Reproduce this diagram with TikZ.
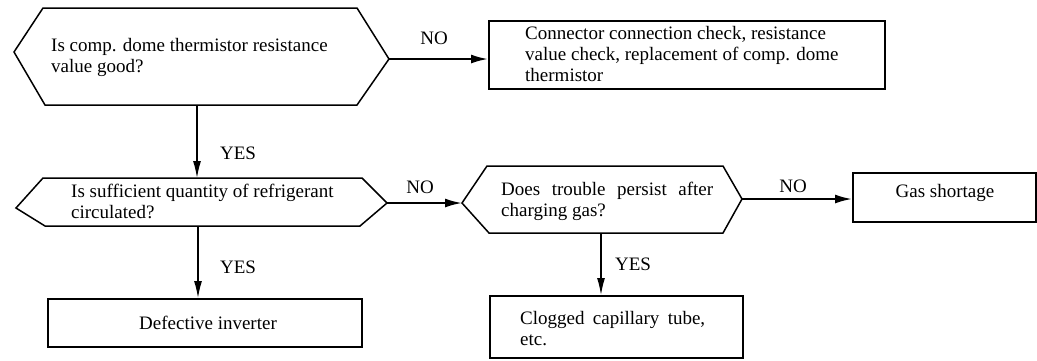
\documentclass[tikz,border=0pt]{standalone}
\usepackage{fontspec}
\setmainfont{Liberation Serif}
\usetikzlibrary{arrows.meta}
\tikzset{
  txt/.style={inner sep=0pt, font=\fontsize{19}{21}\selectfont, align=left},
  lbl/.style={inner sep=0pt, font=\fontsize{19}{21}\selectfont},
  hexline/.style={line width=1.5pt, line join=miter},
  boxline/.style={draw, line width=2pt, inner sep=0pt},
  yesarrow/.style={line width=1.3pt, -{Latex[length=17pt,width=8pt]}},
  noarrow/.style={line width=2pt, -{Latex[length=17pt,width=9pt]}},
}
\begin{document}
\begin{tikzpicture}[x=1pt,y=-1pt]
\useasboundingbox (0,0) rectangle (1037,360);
% hexagon 1
\coordinate (h1L) at (14,52);
\coordinate (h1R) at (389,59);
\coordinate (h1B) at (197,105);
\draw[hexline] (h1L) -- (43,8) -- (357,8) -- (h1R) -- (357,105) -- (45,105) -- cycle;
\node[txt, anchor=west] (q1) at (51,57.5) {Is comp. dome thermistor resistance\\value good?};
% box 1
\node[boxline, minimum width=396pt, minimum height=68pt, anchor=north west] (b1) at (488,20) {};
\node[txt, anchor=west] (t1) at (525,54) {Connector connection check, resistance\\value check, replacement of comp. dome\\thermistor};
% hexagon 2
\coordinate (h2L) at (16,208);
\coordinate (h2T) at (197,178);
\coordinate (h2R) at (387,203);
\coordinate (h2B) at (198,226);
\draw[hexline] (h2L) -- (43,178) -- (362,178) -- (h2R) -- (360,226) -- (45,226) -- cycle;
\node[txt, anchor=west] (q2) at (71,201) {Is sufficient quantity of refrigerant\\circulated?};
% hexagon 3
\coordinate (h3L) at (462,203);
\coordinate (h3R) at (742,199);
\coordinate (h3B) at (601,233);
\draw[hexline] (h3L) -- (487,166) -- (723,166) -- (h3R) -- (723,233) -- (489,233) -- cycle;
\node[txt, anchor=west] (q3) at (501,201) {\makebox[212pt][s]{Does trouble persist after}\\charging gas?};
% box defective inverter
\node[boxline, minimum width=314pt, minimum height=48pt, anchor=north west] (b2) at (47,298) {};
\node[lbl] (t2) at (208,323) {Defective inverter};
% box gas shortage
\node[boxline, minimum width=183pt, minimum height=49pt, anchor=north west] (b3) at (852,172) {};
\node[lbl] (t3) at (945,193) {Gas shortage};
% box clogged
\node[boxline, minimum width=253pt, minimum height=62pt, anchor=north west] (b4) at (489,295) {};
\node[txt, anchor=west] (t4) at (520,328.5) {\makebox[185pt][s]{Clogged capillary tube,}\\etc.};
% connectors
\draw[noarrow] (h1R) -- (b1.west |- h1R);
\draw[yesarrow] (h1B) -- (h2T);
\draw[noarrow] (h2R) -- (h3L);
\draw[yesarrow] (h2B) -- (b2.north -| h2B);
\draw[noarrow] (h3R) -- (b3.west |- h3R);
\draw[yesarrow] (h3B) -- (b4.north -| h3B);
% labels
\node[lbl] (n1) at (434,38) {NO};
\node[lbl] (y1) at (238,153) {YES};
\node[lbl] (n2) at (420,187) {NO};
\node[lbl] (y2) at (238,267) {YES};
\node[lbl] (n3) at (793,186) {NO};
\node[lbl] (y3) at (633,264) {YES};
\end{tikzpicture}
\end{document}
